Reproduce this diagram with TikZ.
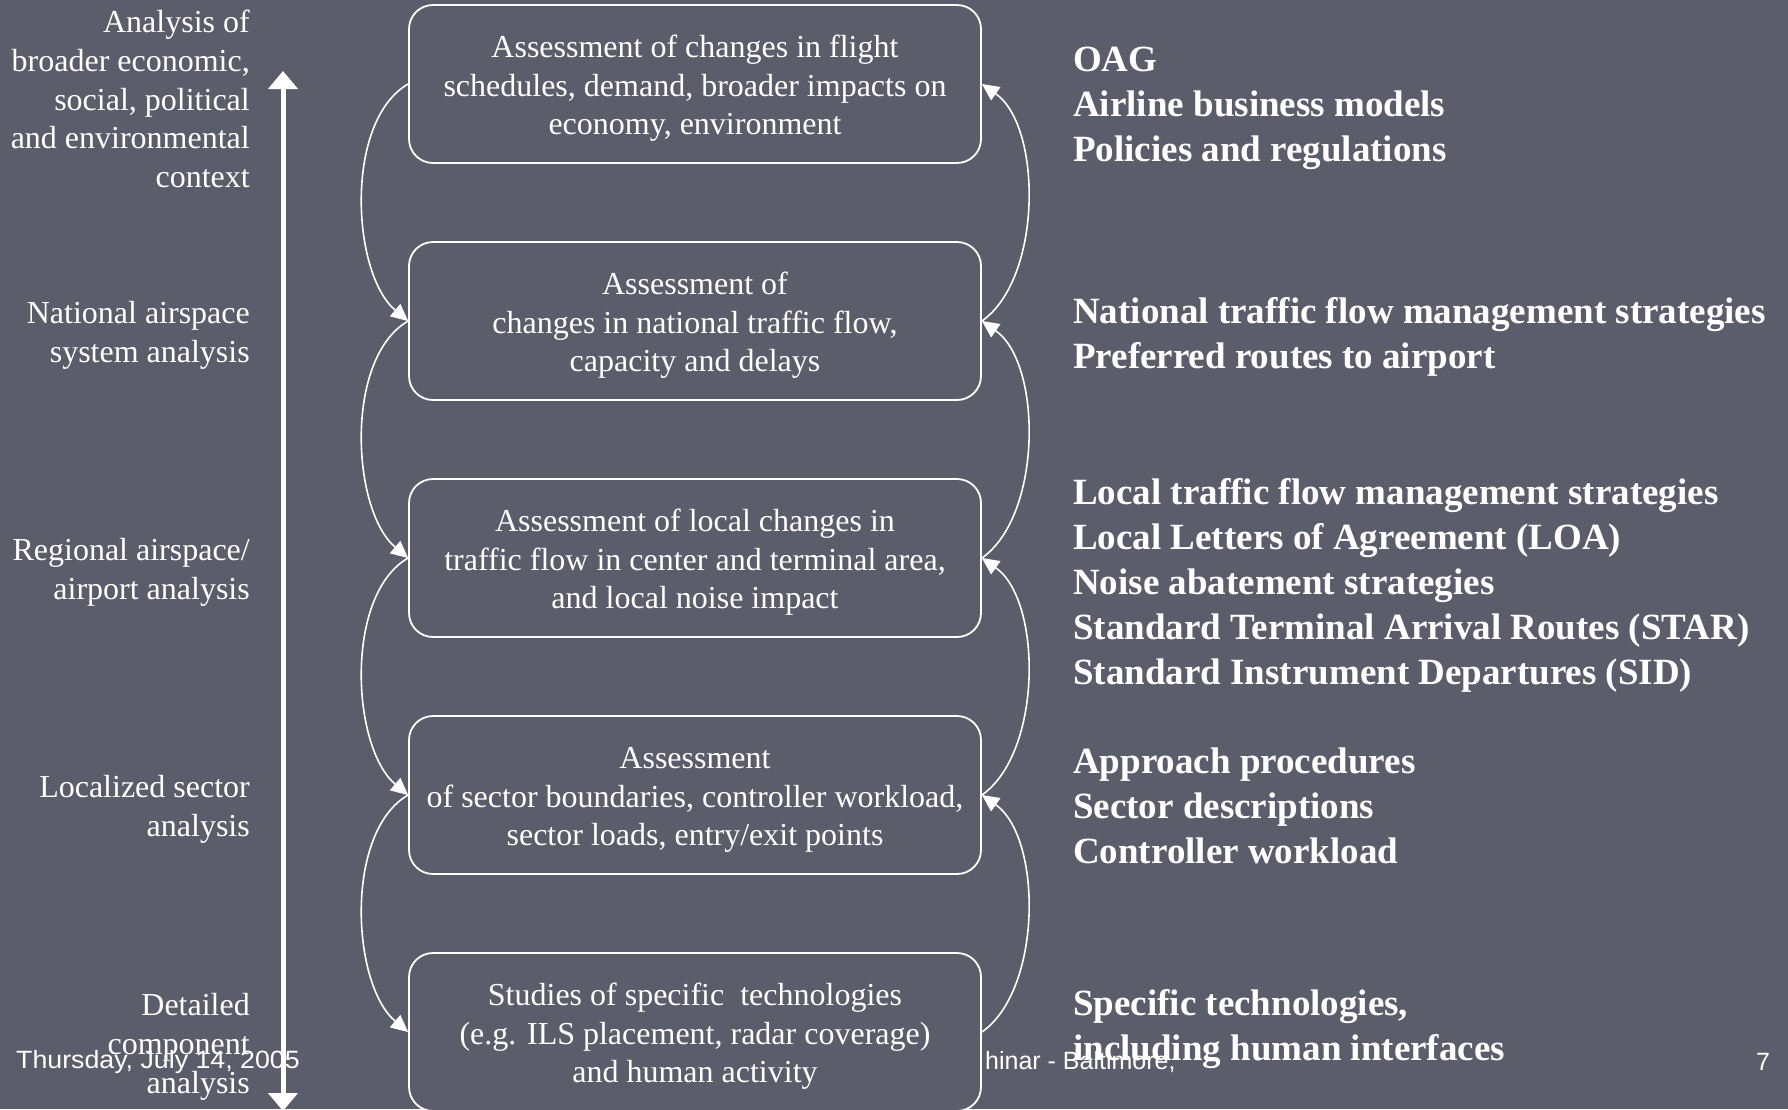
\documentclass[tikz,border=0pt]{standalone}
\usepackage{fontspec}
\setmainfont{Liberation Serif}
\newfontfamily\footfont{Liberation Sans}
\usepackage{tikz}
\usetikzlibrary{arrows.meta}
\usetikzlibrary{positioning}
\definecolor{slate}{RGB}{91,93,107}
\newcommand{\topstrut}{\rule{0pt}{31pt}}
\tikzset{stage/.style = {draw=white, line width=1.8pt, rounded corners=24pt,
                         fill=slate, text=white, minimum width=572pt,
                         minimum height=158pt, inner sep=0pt, align=center,
                         font=\fontsize{32pt}{38.8pt}\selectfont}}
\tikzset{level/.style = {anchor=east, align=right, text=white, inner sep=0pt,
                         font=\fontsize{32pt}{38.8pt}\selectfont}}
\tikzset{source/.style = {anchor=west, align=left, text=white, inner sep=0pt,
                          font=\fontsize{37pt}{45pt}\selectfont\bfseries}}
\tikzset{footer/.style = {text=white, inner sep=0pt,
                          font=\fontsize{25pt}{30pt}\footfont}}
\tikzset{feed/.style = {draw=white, line width=1.6pt,
                        -{Triangle[length=17pt,width=16pt]}}}
\tikzset{spine/.style = {draw=white, line width=5pt,
                         {Triangle[length=18pt,width=29pt]}-{Triangle[length=18pt,width=29pt]}}}

\begin{document}
\begin{tikzpicture}[x=1pt, y=1pt]
      \useasboundingbox (0, 0) rectangle (1788, -1109);
      \clip (0, 0) rectangle (1788, -1109);
      \fill [slate] (0, 0) rectangle (1788, -1109);
      % footer of the slide
      \node [footer, anchor=west, xscale=1.07] (date) at (16, -1062) {Thursday, July 14, 2005};
      \node [footer, anchor=west] (place) at (985, -1062) {hinar - Baltimore,};
      \node [footer] (page) at (1763, -1062) {7};
      % scale axis
      \coordinate (top) at (283, -71);
      \coordinate (bottom) at (283, -1111);
      \draw [spine] (top) -- (bottom);
      % levels
      \node [level] (l1) at (250, -99) {Analysis of\\broader economic,\\social, political\\and environmental\\context};
      \node [level] (l2) at (250, -335) {National airspace\\system analysis};
      \node [level] (l3) at (250, -572) {Regional airspace/\\airport analysis};
      \node [level] (l4) at (250, -809) {Localized sector\\analysis};
      \node [level] (l5) at (250, -1047) {Detailed\\component\\analysis};
      % assessments
      \node [stage] (b1) at (695, -84) {\topstrut Assessment of changes in flight\\schedules, demand, broader impacts on\\economy, environment};
      \node [stage] (b2) at (695, -321) {\topstrut Assessment of\\changes in national traffic flow,\\capacity and delays};
      \node [stage] (b3) at (695, -558) {\topstrut Assessment of local changes in\\traffic flow in center and terminal area,\\and local noise impact};
      \node [stage] (b4) at (695, -795) {\topstrut Assessment\\of sector boundaries, controller workload,\\sector loads, entry/exit points};
      \node [stage] (b5) at (695, -1032) {\topstrut Studies of specific\ \ technologies\\(e.g. ILS placement, radar coverage)\\and human activity};
      % feedback loops
      \foreach \a/\b in {b1/b2, b2/b3, b3/b4, b4/b5} {
        \draw [feed] (\a.west) to [out=210, in=140, looseness=0.8] (\b.west);
        \draw [feed] (\b.east) to [out=35, in=-35, looseness=0.8] (\a.east);
      }
      % data sources
      \node [source] (s1) at (1073, -108) {OAG\\Airline business models\\Policies and regulations};
      \node [source] (s2) at (1073, -337) {National traffic flow management strategies\\Preferred routes to airport};
      \node [source] (s3) at (1073, -585) {Local traffic flow management strategies\\Local Letters of Agreement (LOA)\\Noise abatement strategies\\Standard Terminal Arrival Routes (STAR)\\Standard Instrument Departures (SID)};
      \node [source] (s4) at (1073, -806) {Approach procedures\\Sector descriptions\\Controller workload};
      \node [source] (s5) at (1073, -1029) {Specific technologies,\\including human interfaces};
    \end{tikzpicture}
\end{document}
